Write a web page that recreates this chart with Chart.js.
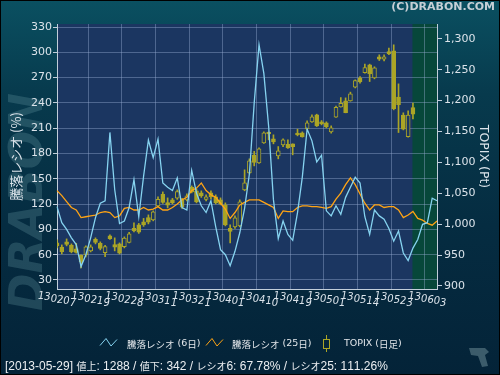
<!DOCTYPE html>
<html><head><meta charset="utf-8">
<script src="https://cdn.jsdelivr.net/npm/chart.js@4/dist/chart.umd.min.js"></script>
<style>html,body{margin:0;padding:0;background:#04243a;}#wrap{width:500px;height:375px;position:relative}</style>
</head><body><div id="wrap"><canvas id="c" width="500" height="375"></canvas></div>
<script>
// ---- data ----
const dates = ['130207','130208','130212','130213','130214','130215','130218','130219','130220','130221','130222','130225','130226','130227','130228',
'130301','130304','130305','130306','130307','130308','130311','130312','130313','130314','130315','130318','130319','130321',
'130322','130325','130326','130327','130328','130329','130401','130402','130403','130404','130405','130408','130409','130410',
'130411','130412','130415','130416','130417','130418','130419','130422','130423','130424','130425','130426','130430','130501',
'130502','130507','130508','130509','130510','130513','130514','130515','130516','130517','130520','130521','130522','130523',
'130524','130527','130528','130529','130530','130531','130603','130604','130605'];
const tickLabels = ['130207','130219','130228','130311','130321','130401','130410','130419','130501','130514','130523','130603'];
const opens = [969.6,963.0,971.3,965.6,959.9,949.4,950.2,956.7,975.3,968.8,953.9,981.0,966.9,968.0,963.7,970.5,993.1,998.8,1003.7,1010.6,
1006.9,1029.6,1048.2,1034.9,1039.3,1041.9,1039.3,1039.3,1059.5,1053.9,1050.6,1040.1,1050.6,1044.1,1039.3,1031.2,993.1,995.6,997.2,1055.5,
1083.0,1111.4,1099.2,1131.6,1148.6,1138.1,1110.5,1128.4,1129.2,1130.0,1147.3,1147.8,1154.3,1165.6,1176.9,1165.6,1164.0,1149.4,1173.2,1189.9,
1199.6,1199.6,1221.8,1236.9,1245.4,1257.9,1236.9,1270.9,1267.1,1279.4,1280.6,1205.6,1176.4,1141.8,1188.8];
const highs = [974.5,966.4,976.1,968.0,969.0,950.2,964.8,966.4,977.8,971.3,965.6,982.6,977.8,969.6,979.4,986.6,1002.0,1001.2,1009.3,1015.0,
1021.5,1044.1,1052.2,1042.5,1041.7,1055.5,1041.7,1049.0,1061.9,1057.0,1053.9,1047.4,1053.9,1047.4,1042.5,1034.4,998.8,1013.4,1039.3,1087.9,
1105.7,1117.8,1123.5,1149.4,1149.4,1144.6,1125.6,1138.1,1136.5,1130.0,1153.8,1149.4,1167.2,1176.9,1178.0,1167.7,1165.6,1159.1,1191.0,1204.9,
1204.4,1213.7,1233.6,1238.9,1259.0,1259.0,1254.7,1274.1,1274.1,1285.0,1290.3,1227.1,1180.2,1183.4,1195.9];
const lows = [961.5,951.8,964.8,953.5,953.0,929.2,947.0,955.0,968.0,958.3,947.5,975.3,956.7,951.8,961.5,969.6,987.5,985.0,996.4,1000.4,
1005.3,1028.0,1033.6,1026.3,1032.8,1040.1,1025.5,1037.6,1050.6,1034.4,1043.3,1037.6,1040.9,1032.8,1031.2,997.2,969.6,993.0,995.6,1054.0,
1081.4,1094.3,1098.4,1130.8,1136.5,1130.0,1105.7,1125.6,1122.7,1112.2,1142.9,1140.8,1152.6,1164.5,1158.0,1160.7,1155.9,1147.3,1172.9,1189.4,
1180.2,1199.0,1220.5,1228.3,1244.5,1230.9,1235.2,1264.9,1264.4,1274.5,1185.0,1148.3,1152.6,1140.8,1170.4];
const closes = [964.8,955.6,967.2,955.6,954.3,938.9,963.2,963.2,970.5,960.7,963.6,976.6,962.7,953.0,977.3,984.2,989.1,986.9,998.8,1003.2,
1019.9,1040.1,1035.2,1030.7,1034.9,1052.7,1027.5,1045.8,1052.2,1036.0,1045.8,1044.1,1044.1,1034.4,1032.8,998.8,988.3,1010.1,1036.0,1066.8,
1102.4,1100.0,1121.9,1147.8,1146.2,1133.2,1118.6,1136.5,1123.5,1125.6,1144.5,1141.3,1164.0,1173.7,1159.1,1162.4,1157.5,1155.9,1189.1,1195.5,
1180.6,1210.9,1232.5,1230.4,1253.5,1243.3,1253.0,1267.1,1270.9,1275.7,1187.1,1193.6,1153.8,1176.4,1178.0];
const ratio6 = [117,98,90,80,72,46,60,80,104,121,124,205,137,97,100,116,149,105,153,196,
175,197,145,140,136,151,116,113,160,133,118,110,124,93,66,60,47,64,86,115,
156,240,309,275,212,125,79,100,84,77,110,152,209,195,170,178,112,106,118,108,
128,140,152,145,105,84,113,106,102,91,76,88,62,53,67.78,78,96,98,127,124];
const ratio25 = [136,130,123,116,113,104,105,106,107,110,111,110,104,106,115,116,113,113,116,113,
114,117,113,113,116,120,125,128,136,139,145,136,131,128,121,114,103,110,119,122,
125,125,125,122,119,116,103,112,111,111,116,118,118,117,117,116,115,117,126,133,
143,151,143,132,121,113,119,119,116,117,117,113,104,107,111.26,103,101,97,95,100];
const leftTicks = [30,60,90,120,150,180,210,240,270,300,330];
const rightTicks = [900,950,1000,1050,1100,1150,1200,1250,1300];
const seriesNames = ['騰落レシオ (6日)','騰落レシオ (25日)','TOPIX (日足)'];
const statusText = '[2013-05-29] 値上: 1288 / 値下: 342 / レシオ6: 67.78% / レシオ25: 111.26%';
const lastDataIndex = 74;

// ---- styles ----
const PLOT_BG = '#1b3661';
const GREEN_BG = '#07473a';
const OLIVE = '#aba526';
const GRID = 'rgba(150,172,210,0.42)';
const AXIS = '#c2ceda';
const TXT = '#dbe3ea';
const BLUE = '#86d3f0';
const ORANGE = '#ffa414';

const bodies = dates.map((d,i)=> i < opens.length ? [opens[i], closes[i]] : null);
const wicks = dates.map((d,i)=> i < opens.length ? [lows[i], highs[i]] : null);

function isCJK(ch){ return /[\u3000-\u30ff\u4e00-\u9fff\uff00-\uffef]/.test(ch); }
function drawRuns(ctx, text, x, y, latinFont, cjkFont){
  let cx = x;
  for (const ch of text){
    ctx.font = isCJK(ch) ? cjkFont : latinFont;
    ctx.fillText(ch, cx, y);
    cx += ctx.measureText(ch).width;
  }
  return cx;
}

const deco = {
  id:'deco',
  beforeDraw(chart){
    const {ctx, chartArea:a, width, height} = chart;
    ctx.save();
    const g = ctx.createLinearGradient(0,0,0,height);
    g.addColorStop(0,'#0a5061'); g.addColorStop(0.25,'#073a4d'); g.addColorStop(0.6,'#052c41'); g.addColorStop(1,'#042338');
    ctx.fillStyle = g; ctx.fillRect(0,0,width,height);
    // watermark
    ctx.save();
    ctx.translate(30, 311);
    ctx.rotate(-Math.PI/2);
    ctx.font = 'italic bold 46px "DejaVu Sans"';
    const w = ctx.measureText('DRABON').width;
    ctx.scale(218/w, 1);
    ctx.fillStyle = 'rgba(100,150,160,0.30)';
    ctx.textBaseline = 'middle';
    ctx.fillText('DRABON', 0, 0);
    ctx.restore();
    // plot bg
    ctx.fillStyle = PLOT_BG;
    ctx.fillRect(a.left, a.top, a.right-a.left, a.bottom-a.top);
    const gx = chart.scales.x.getPixelForValue(lastDataIndex) - 0.5;
    ctx.fillStyle = GREEN_BG;
    ctx.fillRect(gx, a.top, a.right-gx, a.bottom-a.top);
    ctx.restore();
  },
  afterDraw(chart){
    const {ctx, chartArea:a} = chart;
    const xs = chart.scales.x;
    ctx.save();
    // x tick labels (stepped)
    ctx.fillStyle = TXT;
    ctx.textBaseline = 'top';
    ctx.font = 'italic 10px "DejaVu Sans"';
    tickLabels.forEach(lab => {
      const idx = dates.indexOf(lab);
      const px = xs.getPixelForValue(idx);
      const tw = ctx.measureText(lab).width;
      let cx = px - tw/2;
      [...lab].forEach((ch,k) => {
        ctx.fillText(ch, cx, a.bottom + 2 + Math.round(k*1.3));
        cx += ctx.measureText(ch).width;
      });
    });
    // legend
    const ly = 343;
    ctx.lineWidth = 1;
    const zig = (x0, col) => {
      ctx.strokeStyle = col; ctx.beginPath();
      ctx.moveTo(x0, ly+2.5); ctx.lineTo(x0+6, ly-4.5); ctx.lineTo(x0+11, ly+3); ctx.lineTo(x0+17, ly-3.5); ctx.stroke();
    };
    zig(100, BLUE); zig(206, ORANGE);
    ctx.strokeStyle = OLIVE;
    ctx.beginPath(); ctx.moveTo(326.5, ly-8); ctx.lineTo(326.5, ly-4); ctx.moveTo(326.5, ly+5); ctx.lineTo(326.5, ly+9); ctx.stroke();
    ctx.strokeRect(323.5, ly-3.5, 6, 9);
    ctx.fillStyle = '#e2e6ea';
    ctx.textBaseline = 'middle';
    const lf = '9.5px "DejaVu Sans"', cf = '9.5px "Noto Sans CJK JP"';
    drawRuns(ctx, seriesNames[0], 127, ly+1, lf, cf);
    drawRuns(ctx, seriesNames[1], 232, ly+1, lf, cf);
    drawRuns(ctx, seriesNames[2], 344, ly+1, lf, cf);
    // status line
    ctx.fillStyle = '#eceff2';
    drawRuns(ctx, statusText, 5, 366.5, '12px "Liberation Sans"', '10px "Noto Sans CJK JP"');
    // copyright
    ctx.font = 'bold 11px "DejaVu Sans"';
    ctx.textAlign = 'right'; ctx.textBaseline = 'top';
    ctx.fillStyle = '#c6cfd6';
    ctx.fillText('(C)DRABON.COM', 495, 2);
    ctx.textAlign = 'left';
    // small logo mark bottom right
    ctx.fillStyle = '#3c5c6b';
    ctx.beginPath();
    ctx.moveTo(469,348); ctx.lineTo(485,348); ctx.lineTo(489,352); ctx.lineTo(485,355);
    ctx.lineTo(488,366); ctx.lineTo(482,367); ctx.lineTo(478,356); ctx.lineTo(471,355); ctx.closePath(); ctx.fill();
    // frame
    ctx.strokeStyle = '#000'; ctx.lineWidth = 1;
    ctx.strokeRect(0.5,0.5,499,374);
    ctx.restore();
  }
};

const fmt = v => String(v).replace(/\B(?=(\d{3})+(?!\d))/g, ',');

new Chart(document.getElementById('c'), {
  type: 'bar',
  data: {
    labels: dates,
    datasets: [
      {type:'line', label:seriesNames[0], data:ratio6, yAxisID:'y', borderColor:BLUE, borderWidth:1.3, pointRadius:0, tension:0, order:0},
      {type:'line', label:seriesNames[1], data:ratio25, yAxisID:'y', borderColor:ORANGE, borderWidth:1.3, pointRadius:0, tension:0, order:1},
      {type:'bar', label:'body', data:bodies, yAxisID:'y1', grouped:false, barThickness:4, minBarLength:1,
       borderWidth:1, borderSkipped:false, borderColor:OLIVE,
       backgroundColor: c => (closes[c.dataIndex] >= opens[c.dataIndex]) ? PLOT_BG : OLIVE, order:2},
      {type:'bar', label:'wick', data:wicks, yAxisID:'y1', grouped:false, barThickness:1, borderWidth:0, backgroundColor:OLIVE, order:3}
    ]
  },
  options: {
    responsive:false, animation:false, devicePixelRatio:1,
    layout:{padding:{top:24, left:0, right:0, bottom:0}},
    plugins:{legend:{display:false}, tooltip:{enabled:false}},
    scales:{
      x:{ offset:false,
          grid:{color: c => (c.index % 7 === 0) ? GRID : 'rgba(0,0,0,0)', drawTicks:false},
          border:{color:AXIS},
          ticks:{display:false},
          afterFit(s){ s.height = 86; } },
      y:{ position:'left', min:19.3, max:333.6,
          afterBuildTicks(s){ s.ticks = leftTicks.map(v => ({value:v})); },
          grid:{color:GRID, tickColor:AXIS, tickLength:4},
          border:{color:AXIS},
          ticks:{color:TXT, font:{family:'DejaVu Sans', size:11}, padding:1},
          title:{display:true, text:'騰落レシオ (%)', color:TXT, font:{family:'Noto Sans CJK JP', size:13}, padding:{top:8, bottom:0}},
          afterFit(s){ s.width = 57; } },
      y1:{ position:'right', min:895, max:1324,
          afterBuildTicks(s){ s.ticks = rightTicks.map(v => ({value:v})); },
          grid:{drawOnChartArea:false, tickColor:AXIS, tickLength:5},
          border:{color:AXIS},
          ticks:{color:TXT, font:{family:'DejaVu Sans', size:11}, padding:2, callback:v => fmt(v)},
          title:{display:true, text:'TOPIX (Pt)', color:TXT, font:{family:'DejaVu Sans', size:12.5}, padding:{top:9.5, bottom:0}},
          afterFit(s){ s.width = 63; } }
    }
  },
  plugins:[deco]
});
</script>
</body></html>
